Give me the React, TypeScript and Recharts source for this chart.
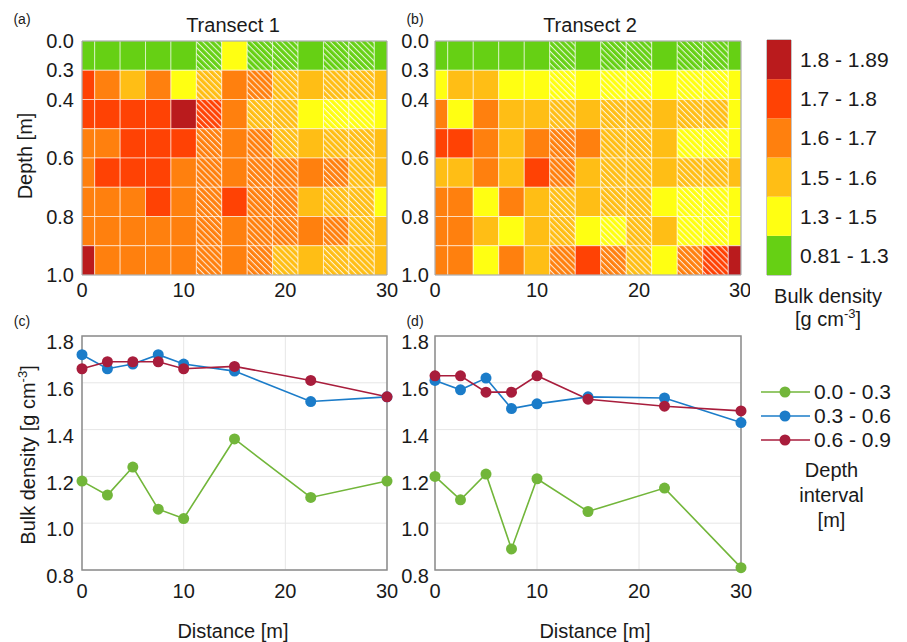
import React from 'react';
import {
  ComposedChart,
  LineChart,
  BarChart,
  Line,
  Bar,
  Scatter,
  XAxis,
  YAxis,
  CartesianGrid,
  ReferenceArea,
  Legend,
} from 'recharts';

const FONT = '"Liberation Sans", Arial, Helvetica, sans-serif';
const INK = '#1a1a1a';

// column centres along each transect [m] (edge columns are half width)
const distances = [0, 2.5, 5, 7.5, 10, 12.5, 15, 17.5, 20, 22.5, 25, 27.5, 30];
// layer boundaries [m]
const depthEdges = [0, 0.3, 0.4, 0.5, 0.6, 0.7, 0.8, 0.9, 1.0];
const depthTickRows = [0, 1, 2, 4, 6, 8];
// columns without a line-plot sample are hatched
const hatchedCols = [5, 7, 8, 10, 11];

// bulk density classes, low to high
const classLabels = ['0.81 - 1.3', '1.3 - 1.5', '1.5 - 1.6', '1.6 - 1.7', '1.7 - 1.8', '1.8 - 1.89'];
const classColors = ['#66d014', '#ffff12', '#ffbe15', '#ff800e', '#ff4204', '#ba1b1d'];

// class index per layer (top to bottom) and column
const transect1Classes = [
  [0, 0, 0, 0, 0, 0, 1, 0, 0, 0, 0, 0, 0],
  [4, 3, 2, 3, 1, 2, 3, 3, 2, 2, 2, 2, 2],
  [4, 4, 4, 4, 5, 4, 3, 2, 2, 1, 1, 1, 1],
  [3, 3, 4, 4, 4, 3, 3, 3, 2, 2, 2, 2, 2],
  [3, 4, 4, 4, 3, 3, 3, 3, 3, 3, 3, 2, 2],
  [3, 3, 3, 4, 3, 3, 4, 3, 3, 2, 2, 2, 1],
  [3, 3, 3, 3, 3, 3, 3, 3, 3, 3, 3, 2, 2],
  [5, 3, 3, 3, 3, 3, 3, 3, 2, 2, 2, 2, 2],
];
const transect2Classes = [
  [0, 0, 0, 0, 0, 0, 0, 0, 0, 0, 0, 0, 0],
  [1, 2, 2, 1, 1, 1, 1, 1, 1, 1, 1, 1, 1],
  [3, 1, 3, 2, 2, 2, 2, 2, 2, 2, 2, 2, 1],
  [4, 4, 3, 2, 3, 3, 3, 2, 2, 2, 1, 1, 1],
  [2, 2, 3, 2, 4, 3, 2, 2, 2, 2, 2, 2, 2],
  [3, 3, 1, 3, 2, 2, 2, 2, 2, 1, 1, 1, 1],
  [3, 3, 2, 1, 2, 2, 1, 1, 2, 2, 1, 1, 1],
  [3, 3, 1, 3, 2, 3, 4, 3, 2, 1, 3, 4, 5],
];

// mean bulk density per depth interval at the sampled distances
const sampleDistances = [0, 2.5, 5, 7.5, 10, 15, 22.5, 30];
const t1Top = [1.18, 1.12, 1.24, 1.06, 1.02, 1.36, 1.11, 1.18];
const t1Mid = [1.72, 1.66, 1.68, 1.72, 1.68, 1.65, 1.52, 1.54];
const t1Deep = [1.66, 1.69, 1.69, 1.69, 1.66, 1.67, 1.61, 1.54];
const t2Top = [1.2, 1.1, 1.21, 0.89, 1.19, 1.05, 1.15, 0.81];
const t2Mid = [1.61, 1.57, 1.62, 1.49, 1.51, 1.54, 1.535, 1.43];
const t2Deep = [1.63, 1.63, 1.56, 1.56, 1.63, 1.53, 1.5, 1.48];

const intervalNames = ['0.0 - 0.3', '0.3 - 0.6', '0.6 - 0.9'];
const intervalColors = ['#72b63a', '#1b7cc9', '#a81d3c'];

const densityTicks = [0.8, 1.0, 1.2, 1.4, 1.6, 1.8];
const distanceTicks = [0, 10, 20, 30];

const tickStyle = { fontSize: 20, fill: INK, fontFamily: FONT };

const colLeft = (c: number) => Math.max(0, distances[c] - 1.25);
const colRight = (c: number) => Math.min(30, distances[c] + 1.25);

interface HeatmapProps {
  classes: number[][];
  patternId: string;
  right: number;
  yAxisWidth: number;
  tickMargin: number;
}

const Heatmap: React.FC<HeatmapProps> = ({ classes, patternId, right, yAxisWidth, tickMargin }) => {
  const cells: { r: number; c: number; k: number }[] = [];
  classes.forEach((row, r) => row.forEach((k, c) => cells.push({ r, c, k })));
  const centres = cells.map(({ r, c }) => ({ x: distances[c], y: r + 0.5 }));

  return (
    <ComposedChart
      width={400}
      height={310}
      margin={{ top: 41, right, bottom: 0, left: 0 }}
      data={centres}
    >
      <defs>
        <pattern
          id={patternId}
          width={4.3}
          height={4.3}
          patternUnits="userSpaceOnUse"
          patternTransform="rotate(-45)"
        >
          <line x1={2} y1={0} x2={2} y2={4.3} stroke="#ffffff" strokeWidth={1} strokeOpacity={0.9} />
        </pattern>
      </defs>
      <XAxis
        type="number"
        dataKey="x"
        domain={[0, 30]}
        ticks={distanceTicks}
        tick={tickStyle}
        tickLine={false}
        axisLine={false}
        tickMargin={2}
        height={35}
      />
      <YAxis
        type="number"
        dataKey="y"
        domain={[0, 8]}
        reversed
        ticks={depthTickRows}
        tickFormatter={(v: number) => depthEdges[v].toFixed(1)}
        tick={tickStyle}
        tickLine={false}
        axisLine={false}
        tickMargin={tickMargin}
        width={yAxisWidth}
      />
      {cells.map(({ r, c, k }) => (
        <ReferenceArea
          key={`cell-${r}-${c}`}
          x1={colLeft(c)}
          x2={colRight(c)}
          y1={r}
          y2={r + 1}
          fill={classColors[k]}
          fillOpacity={1}
          stroke="rgba(255,255,255,0.55)"
          strokeWidth={1}
        />
      ))}
      {hatchedCols.map((c) => (
        <ReferenceArea
          key={`hatch-${c}`}
          x1={colLeft(c)}
          x2={colRight(c)}
          y1={0}
          y2={8}
          fill={`url(#${patternId})`}
          fillOpacity={1}
          stroke="none"
        />
      ))}
      <ReferenceArea x1={0} x2={30} y1={0} y2={8} fill="none" stroke="#9a9a9a" strokeWidth={1} />
      <Scatter data={centres} dataKey="y" fill="none" legendType="none" isAnimationActive={false} />
    </ComposedChart>
  );
};

const renderIntervalLegend = (props: any) => {
  const { payload } = props;
  return (
    <div style={{ fontFamily: FONT, color: INK }}>
      {payload.map((entry: any) => (
        <div key={entry.value} style={{ display: 'flex', alignItems: 'center', height: 24 }}>
          <svg width={49} height={24}>
            <line x1={0} y1={12} x2={49} y2={12} stroke={entry.color} strokeWidth={1.6} />
            <circle cx={24} cy={12} r={5.5} fill={entry.color} />
          </svg>
          <span style={{ marginLeft: 4, fontSize: 21, lineHeight: '24px' }}>{entry.value}</span>
        </div>
      ))}
      <div
        style={{
          width: 141,
          marginTop: 6,
          textAlign: 'center',
          fontSize: 20,
          lineHeight: '25px',
        }}
      >
        Depth
        <br />
        interval
        <br />
        [m]
      </div>
    </div>
  );
};

interface ProfileProps {
  top: number[];
  mid: number[];
  deep: number[];
  width: number;
  right: number;
  yAxisWidth: number;
  tickMargin: number;
  withLegend?: boolean;
}

const ProfileChart: React.FC<ProfileProps> = ({ top, mid, deep, width, right, yAxisWidth, tickMargin, withLegend }) => {
  const data = sampleDistances.map((x, i) => ({ x, top: top[i], mid: mid[i], deep: deep[i] }));
  const keys = ['top', 'mid', 'deep'];

  return (
    <LineChart width={width} height={332} data={data} margin={{ top: 26, right, bottom: 0, left: 0 }}>
      <CartesianGrid stroke="#e6e6e6" strokeWidth={1} />
      <XAxis
        type="number"
        dataKey="x"
        domain={[0, 30]}
        ticks={distanceTicks}
        tick={tickStyle}
        tickLine={false}
        axisLine={false}
        tickMargin={8}
        height={72}
      />
      <YAxis
        type="number"
        domain={[0.8, 1.8]}
        ticks={densityTicks}
        tickFormatter={(v: number) => v.toFixed(1)}
        tick={{ ...tickStyle, dy: 6 }}
        tickLine={false}
        axisLine={false}
        tickMargin={tickMargin}
        width={yAxisWidth}
      />
      <ReferenceArea x1={0} x2={30} y1={0.8} y2={1.8} fill="none" stroke="#8c8c8c" strokeWidth={1.5} />
      {keys.map((k, i) => (
        <Line
          key={k}
          type="linear"
          dataKey={k}
          name={intervalNames[i]}
          stroke={intervalColors[i]}
          strokeWidth={1.6}
          dot={{ r: 5.5, fill: intervalColors[i], stroke: 'none' }}
          activeDot={false}
          isAnimationActive={false}
        />
      ))}
      {withLegend && (
        <Legend
          layout="vertical"
          align="center"
          verticalAlign="middle"
          content={renderIntervalLegend}
          wrapperStyle={{ left: 411, top: 70, width: 150 }}
        />
      )}
    </LineChart>
  );
};

// one row, one stacked segment per density class
const colorbarRow = [
  classColors.reduce((row: Record<string, number | string>, _, i) => ({ ...row, [`c${i}`]: 1 }), { name: 'bd' }),
];

const Colorbar: React.FC = () => (
  <BarChart
    width={167}
    height={310}
    data={colorbarRow}
    margin={{ top: 40, right: 0, bottom: 35, left: 27 }}
    barCategoryGap={0}
  >
    <XAxis dataKey="name" hide />
    <YAxis
      orientation="right"
      type="number"
      domain={[0, 6]}
      ticks={[0.5, 1.5, 2.5, 3.5, 4.5, 5.5]}
      tickFormatter={(v: number) => classLabels[Math.floor(v)]}
      tick={{ ...tickStyle, fontSize: 21 }}
      tickLine={false}
      axisLine={false}
      tickMargin={3}
      width={116}
    />
    {classColors.map((color, i) => (
      <Bar key={i} dataKey={`c${i}`} stackId="cb" fill={color} isAnimationActive={false} />
    ))}
    <ReferenceArea y1={0} y2={6} fill="none" stroke="#8c8c8c" strokeWidth={1} />
  </BarChart>
);

const Caption: React.FC<{ x: number; y: number; size?: number; rotate?: boolean; children: React.ReactNode }> = ({
  x,
  y,
  size = 20,
  rotate = false,
  children,
}) => (
  <div
    style={{
      position: 'absolute',
      left: x,
      top: y,
      transform: `translate(-50%, -50%)${rotate ? ' rotate(-90deg)' : ''}`,
      whiteSpace: 'nowrap',
      fontFamily: FONT,
      fontSize: size,
      color: INK,
      lineHeight: 1,
    }}
  >
    {children}
  </div>
);

const at = (left: number, top: number): React.CSSProperties => ({ position: 'absolute', left, top });

export default function App() {
  return (
    <div style={{ position: 'absolute', left: 0, top: 0, width: 907, height: 642, background: '#fff', overflow: 'hidden' }}>
      <div style={at(0, 0)}>
        <Heatmap classes={transect1Classes} patternId="hatch-t1" right={13} yAxisWidth={82} tickMargin={2} />
      </div>
      <div style={at(350, 0)}>
        <Heatmap classes={transect2Classes} patternId="hatch-t2" right={9} yAxisWidth={85} tickMargin={0} />
      </div>
      <div style={at(740, 0)}>
        <Colorbar />
      </div>
      <div style={at(0, 310)}>
        <ProfileChart top={t1Top} mid={t1Mid} deep={t1Deep} width={400} right={13} yAxisWidth={82} tickMargin={2} />
      </div>
      <div style={at(350, 310)}>
        <ProfileChart
          top={t2Top}
          mid={t2Mid}
          deep={t2Deep}
          width={557}
          right={166}
          yAxisWidth={85}
          tickMargin={0}
          withLegend
        />
      </div>

      <Caption x={22} y={19} size={14}>(a)</Caption>
      <Caption x={415} y={19} size={14}>(b)</Caption>
      <Caption x={22} y={321} size={14}>(c)</Caption>
      <Caption x={415} y={321} size={14}>(d)</Caption>

      <Caption x={233} y={25}>Transect 1</Caption>
      <Caption x={590} y={25}>Transect 2</Caption>

      <Caption x={25} y={156} rotate>Depth [m]</Caption>
      <Caption x={27} y={455} rotate>
        Bulk density [g cm<sup style={{ fontSize: 13 }}>-3</sup>]
      </Caption>

      <Caption x={233} y={631}>Distance [m]</Caption>
      <Caption x={595} y={631}>Distance [m]</Caption>

      <Caption x={828} y={296}>Bulk density</Caption>
      <Caption x={828} y={318}>
        [g cm<sup style={{ fontSize: 13 }}>-3</sup>]
      </Caption>
    </div>
  );
}
